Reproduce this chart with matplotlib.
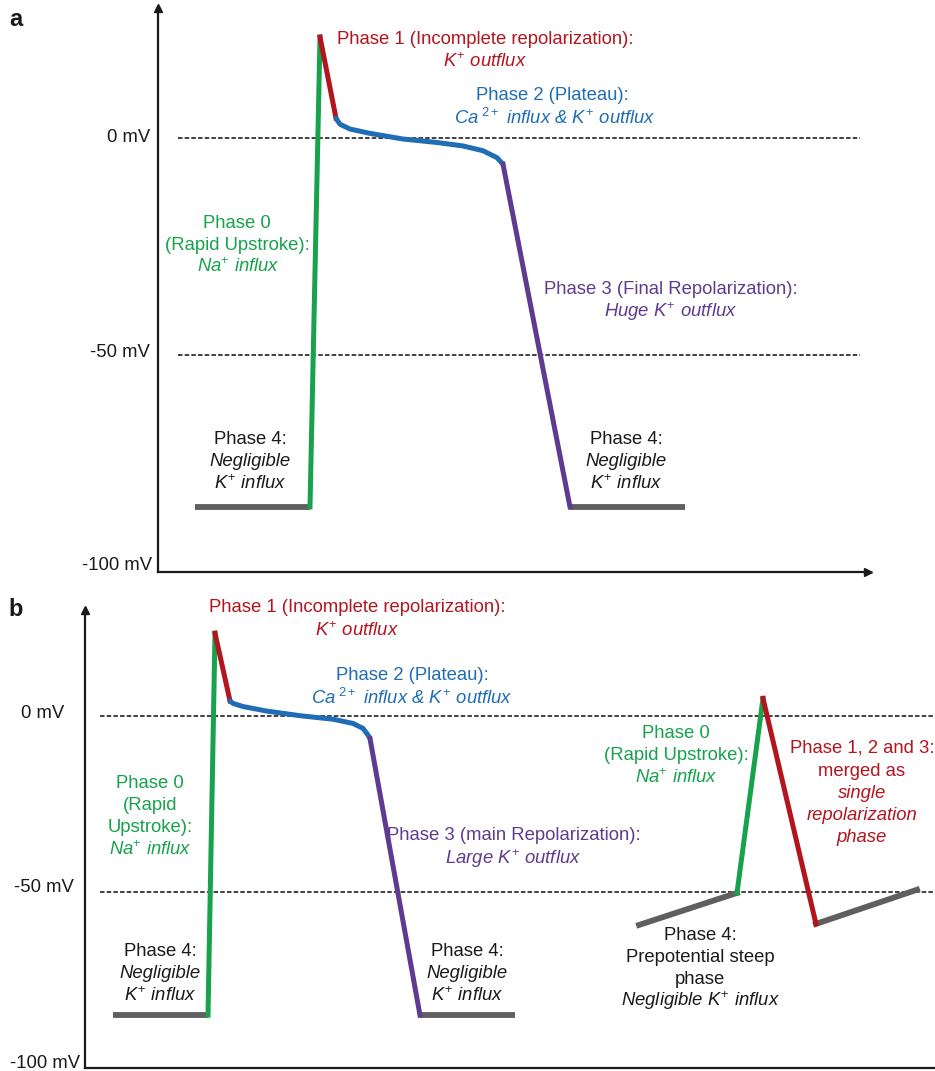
import matplotlib
matplotlib.use("Agg")
import matplotlib.pyplot as plt

plt.rcParams['font.family'] = ['Liberation Sans', 'DejaVu Sans']
plt.rcParams['mathtext.fontset'] = 'custom'
plt.rcParams['mathtext.rm'] = 'Liberation Sans'
plt.rcParams['mathtext.it'] = 'Liberation Sans:italic'
plt.rcParams['mathtext.bf'] = 'Liberation Sans:bold'

# colours
RED = '#b3151e'
GREEN = '#17a24b'
BLUE = '#1f6db5'
PURPLE = '#5e3b91'
GRAY = '#5f5f5f'
INK = '#1a1a1a'

# ---- panel a: ventricular action potential (time a.u., mV)
a_rest1_t = [37, 152]
a_rest1_v = [-85, -85]
a_ph0_t = [152, 162]
a_ph0_v = [-85, 23.3]
a_ph1_t = [162, 178]
a_ph1_v = [23.3, 4.6]
a_ph2_t = [178, 182, 192, 212, 245, 279, 305, 325, 339, 345]
a_ph2_v = [4.6, 3.2, 2.1, 1.1, -0.2, -1.0, -1.8, -2.9, -4.5, -6.0]
a_ph3_t = [345, 412]
a_ph3_v = [-6.0, -85]
a_rest2_t = [412, 527]
a_rest2_v = [-85, -85]

# ---- panel b: ventricular AP + pacemaker AP
b_rest1_t = [28, 123]
b_rest1_v = [-85, -85]
b_ph0_t = [123, 130]
b_ph0_v = [-85, 23.4]
b_ph1_t = [130, 145]
b_ph1_v = [23.4, 4.2]
b_ph2_t = [145, 148, 158, 182, 215, 248, 268, 278, 283, 285]
b_ph2_v = [4.2, 3.5, 2.6, 1.3, 0.0, -1.0, -2.2, -3.6, -5.5, -6.5]
b_ph3_t = [285, 335]
b_ph3_v = [-6.5, -85]
b_rest2_t = [335, 430]
b_rest2_v = [-85, -85]

pm_ph4_t = [554, 652]
pm_ph4_v = [-59.4, -50.3]
pm_ph0_t = [652, 678]
pm_ph0_v = [-50.3, 4.9]
pm_rep_t = [678, 731]
pm_rep_v = [4.9, -59.1]
pm_ph4b_t = [731, 832]
pm_ph4b_v = [-59.1, -49.4]

ref_levels = [0, -50]

W, H = 935, 1071
fig = plt.figure(figsize=(W / 100, H / 100), dpi=100)


def px_axes(left, top, right, bottom):
    return fig.add_axes([left / W, 1 - bottom / H, (right - left) / W, (bottom - top) / H])


def label(x, y, s, color=INK, style='normal', size=13.3, weight='normal', ha='center'):
    fig.text(x / W, 1 - y / H, s, color=color, fontstyle=style, fontsize=size,
             fontweight=weight, ha=ha, va='center')


def setup(ax, xmax, right_arrow=True):
    ax.set_xlim(0, xmax)
    ax.set_ylim(-100, 30)
    for s in ['top', 'right']:
        ax.spines[s].set_visible(False)
    for s in ['left', 'bottom']:
        ax.spines[s].set_linewidth(1.6)
        ax.spines[s].set_color(INK)
    ax.set_xticks([])
    ax.set_yticks([])
    ax.patch.set_alpha(0)
    ax.plot(0, 1, marker='^', ms=6, color=INK, transform=ax.transAxes, clip_on=False)
    if right_arrow:
        ax.plot(1, 0, marker='>', ms=6, color=INK, transform=ax.transAxes, clip_on=False)


lw = 3.6
dash = (0, (2.5, 1.2))
kw = dict(lw=lw, solid_joinstyle='round', solid_capstyle='round')

# ---------------- panel a
ax = px_axes(158, 8, 868, 572)
setup(ax, 710)
for lev in ref_levels:
    ax.hlines(lev, 20, 702, colors='#333333', linestyles=dash, lw=1.3)
ax.plot(a_rest1_t, a_rest1_v, color=GRAY, lw=4.2, solid_capstyle='butt')
ax.plot(a_rest2_t, a_rest2_v, color=GRAY, lw=4.2, solid_capstyle='butt')
ax.plot(a_ph0_t, a_ph0_v, color=GREEN, lw=lw)
ax.plot(a_ph1_t, a_ph1_v, color=RED, lw=lw)
ax.plot(a_ph2_t, a_ph2_v, color=BLUE, **kw)
ax.plot(a_ph3_t, a_ph3_v, color=PURPLE, lw=lw)

label(16, 20, 'a', size=17, weight='bold')
label(150, 137, '0 mV', ha='right')
label(150, 353, '-50 mV', ha='right')
label(152, 566, '-100 mV', ha='right')

label(485, 40, 'Phase 1 (Incomplete repolarization):', RED)
label(485, 62, r'$K^{+}$ outflux', RED, 'italic')
label(552, 96, 'Phase 2 (Plateau):', BLUE)
label(555, 118, r'Ca$^{\ 2+}$ influx & $K^{+}$ outflux', BLUE, 'italic')
label(237, 223, 'Phase 0', GREEN)
label(237, 245, '(Rapid Upstroke):', GREEN)
label(238, 267, r'Na$^{+}$ influx', GREEN, 'italic')
label(671, 290, 'Phase 3 (Final Repolarization):', PURPLE)
label(671, 312, r'Huge $K^{+}$ outflux', PURPLE, 'italic')
for cx in [250, 626]:
    label(cx, 440, 'Phase 4:')
    label(cx, 462, 'Negligible', style='italic')
    label(cx, 484, r'$K^{+}$ influx', style='italic')

# ---------------- panel b
bx = px_axes(85, 610, 935, 1068)
setup(bx, 850, right_arrow=False)
for lev in ref_levels:
    bx.hlines(lev, 15, 850, colors='#333333', linestyles=dash, lw=1.3)
bx.plot(b_rest1_t, b_rest1_v, color=GRAY, lw=4.2, solid_capstyle='butt')
bx.plot(b_rest2_t, b_rest2_v, color=GRAY, lw=4.2, solid_capstyle='butt')
bx.plot(b_ph0_t, b_ph0_v, color=GREEN, lw=lw)
bx.plot(b_ph1_t, b_ph1_v, color=RED, lw=lw)
bx.plot(b_ph2_t, b_ph2_v, color=BLUE, **kw)
bx.plot(b_ph3_t, b_ph3_v, color=PURPLE, lw=lw)
bx.plot(pm_ph4_t, pm_ph4_v, color=GRAY, lw=4.2)
bx.plot(pm_ph4b_t, pm_ph4b_v, color=GRAY, lw=4.2)
bx.plot(pm_ph0_t, pm_ph0_v, color=GREEN, lw=lw)
bx.plot(pm_rep_t, pm_rep_v, color=RED, lw=lw)

label(16, 609, 'b', size=17, weight='bold')
label(64, 713, '0 mV', ha='right')
label(74, 888, '-50 mV', ha='right')
label(80, 1063, '-100 mV', ha='right')

label(357, 607, 'Phase 1 (Incomplete repolarization):', RED)
label(357, 631, r'$K^{+}$ outflux', RED, 'italic')
label(412, 676, 'Phase 2 (Plateau):', BLUE)
label(412, 698, r'Ca$^{\ 2+}$ influx & $K^{+}$ outflux', BLUE, 'italic')
label(150, 783, 'Phase 0', GREEN)
label(150, 806, '(Rapid', GREEN)
label(150, 828, 'Upstroke):', GREEN)
label(150, 850, r'Na$^{+}$ influx', GREEN, 'italic')
label(514, 836, 'Phase 3 (main Repolarization):', PURPLE)
label(513, 859, r'Large $K^{+}$ outflux', PURPLE, 'italic')
for cx in [160, 467]:
    label(cx, 952, 'Phase 4:')
    label(cx, 974, 'Negligible', style='italic')
    label(cx, 996, r'$K^{+}$ influx', style='italic')

label(676, 733, 'Phase 0', GREEN)
label(676, 756, '(Rapid Upstroke):', GREEN)
label(676, 778, r'Na$^{+}$ influx', GREEN, 'italic')
label(862, 748, 'Phase 1, 2 and 3:', RED)
label(862, 771, 'merged as', RED)
label(862, 793, 'single', RED, 'italic')
label(862, 816, 'repolarization', RED, 'italic')
label(862, 838, 'phase', RED, 'italic')
label(700, 935, 'Phase 4:')
label(700, 957, 'Prepotential steep')
label(700, 979, 'phase')
label(700, 1001, r'Negligible $K^{+}$ influx', style='italic')

fig.savefig('out.png', dpi=100)
